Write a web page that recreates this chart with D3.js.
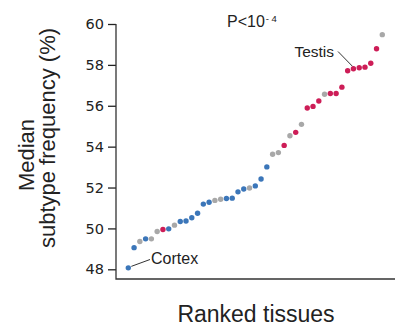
<!DOCTYPE html>
<html>
<head>
<meta charset="utf-8">
<script src="https://cdn.jsdelivr.net/npm/d3@7"></script>
<style>
  body { margin: 0; background: #fff; }
  svg { display: block; }
</style>
</head>
<body>
<script>
// median subtype frequency per tissue, in rank order
const values = [48.07, 49.06, 49.36, 49.49, 49.49, 49.85, 49.95, 49.98, 50.16, 50.34,
  50.36, 50.52, 50.74, 51.19, 51.28, 51.37, 51.43, 51.46, 51.48, 51.79,
  51.93, 51.98, 52.08, 52.42, 53.01, 53.63, 53.71, 54.06, 54.53, 54.70,
  55.09, 55.89, 55.97, 56.23, 56.56, 56.60, 56.60, 56.91, 57.71, 57.81,
  57.86, 57.89, 58.08, 58.79, 59.48];
// b = brain-like (blue), r = red group, g = other
const groups = ['b', 'b', 'g', 'b', 'g', 'g', 'r', 'b', 'g', 'b',
  'b', 'b', 'b', 'b', 'b', 'g', 'g', 'b', 'b', 'b',
  'b', 'g', 'b', 'b', 'b', 'g', 'g', 'r', 'g', 'r',
  'g', 'r', 'r', 'r', 'g', 'r', 'r', 'r', 'r', 'r',
  'r', 'r', 'r', 'r', 'g'];
const yTicks = [48, 50, 52, 54, 56, 58, 60];

const colors = { b: '#3b76b9', r: '#cd1d57', g: '#a8a8a8' };

const W = 395, H = 326;
const axisX = 116, axisBottom = 279;

const svg = d3.select('body').append('svg')
  .attr('width', W)
  .attr('height', H);

const x = d3.scaleLinear()
  .domain([0, values.length - 1])
  .range([128.3, 382.3]);
const y = d3.scaleLinear()
  .domain([48, 60])
  .range([269.3, 24]);

// y axis
const yAxis = svg.append('g')
  .attr('transform', `translate(${axisX},0)`)
  .call(d3.axisLeft(y).tickValues(yTicks).tickSize(8).tickPadding(4).tickSizeOuter(0));
yAxis.select('.domain').remove();
yAxis.selectAll('line').attr('stroke', '#222').attr('stroke-width', 1.3);
yAxis.selectAll('text')
  .style('font-family', '"DejaVu Sans", sans-serif')
  .style('font-size', '14.5px')
  .attr('fill', '#222');

// axis lines
svg.append('path')
  .attr('d', `M${axisX},${y(60)}V${axisBottom}H${W}`)
  .attr('fill', 'none')
  .attr('stroke', '#333')
  .attr('stroke-width', 1.3);

// points
svg.selectAll('.dot')
  .data(values)
  .enter().append('circle')
  .attr('class', 'dot')
  .attr('cx', (d, i) => x(i))
  .attr('cy', d => y(d))
  .attr('r', 2.7)
  .attr('fill', (d, i) => colors[groups[i]]);

// annotations
const font = '"Liberation Sans", Arial, sans-serif';

svg.append('line')
  .attr('x1', x(0) + 3).attr('y1', y(values[0]) - 1.5)
  .attr('x2', 150).attr('y2', 259.5)
  .attr('stroke', '#333').attr('stroke-width', 1);
svg.append('text')
  .attr('x', 151).attr('y', 263.5)
  .style('font-family', font).style('font-size', '16px')
  .attr('fill', '#222')
  .text('Cortex');

svg.append('line')
  .attr('x1', 338).attr('y1', 51.5)
  .attr('x2', x(39) - 1).attr('y2', y(values[39]) - 2.5)
  .attr('stroke', '#333').attr('stroke-width', 1);
svg.append('text')
  .attr('x', 334).attr('y', 56.5)
  .attr('text-anchor', 'end')
  .style('font-family', font).style('font-size', '15.5px')
  .attr('fill', '#222')
  .text('Testis');

const p = svg.append('text')
  .attr('x', 227).attr('y', 27)
  .style('font-family', font).style('font-size', '16px')
  .attr('fill', '#222');
p.append('tspan').text('P<10');
p.append('tspan').attr('dx', 1).attr('dy', -5).style('font-size', '9.5px').text('- 4');

// titles
svg.append('text')
  .attr('transform', 'translate(34,155) rotate(-90)')
  .attr('text-anchor', 'middle')
  .style('font-family', font).style('font-size', '22px')
  .attr('fill', '#222')
  .text('Median');
svg.append('text')
  .attr('transform', 'translate(55,138) rotate(-90)')
  .attr('text-anchor', 'middle')
  .style('font-family', font).style('font-size', '22px')
  .attr('fill', '#222')
  .text('subtype frequency (%)');

svg.append('text')
  .attr('x', 256).attr('y', 322)
  .attr('text-anchor', 'middle')
  .style('font-family', font).style('font-size', '23px')
  .attr('fill', '#222')
  .text('Ranked tissues');
</script>
</body>
</html>
